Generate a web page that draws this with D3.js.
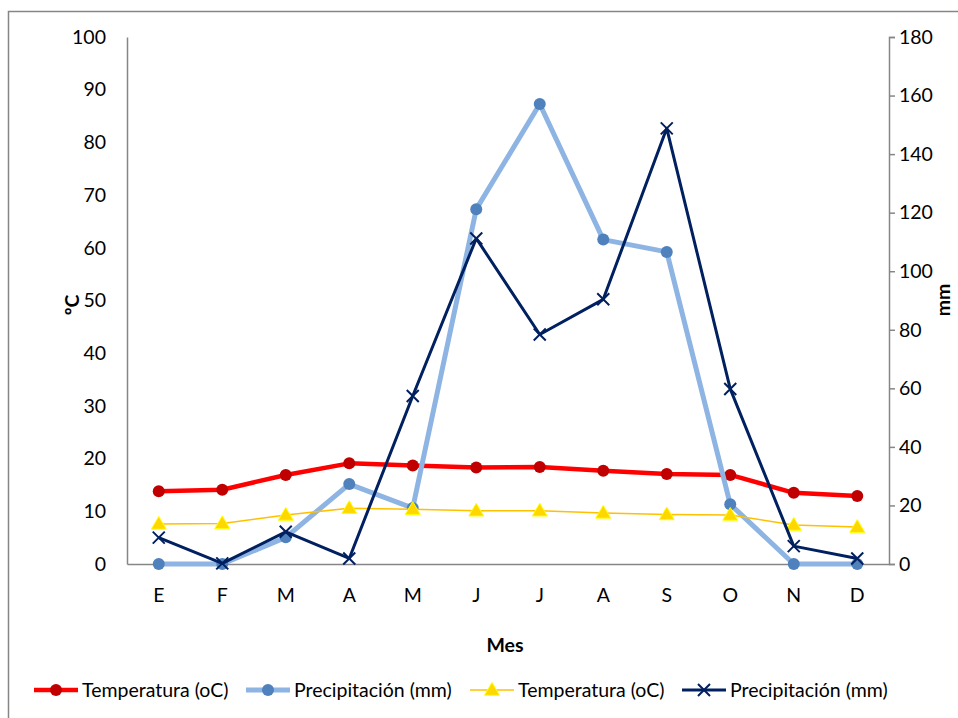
<!DOCTYPE html>
<html><head><meta charset="utf-8">
<script src="https://cdn.jsdelivr.net/npm/d3@7"></script>
<style>body{margin:0;background:#fff}svg{display:block}text{font-family:Lato,"Open Sans",sans-serif;fill:#000}</style>
</head><body>
<svg id="c" width="958" height="718"></svg>
<script>
const months = ["E","F","M","A","M","J","J","A","S","O","N","D"];
const tempRed = [13.8,14.1,16.9,19.1,18.7,18.3,18.4,17.7,17.1,16.9,13.5,12.9];
const precipLight = [0,0,9.1,27.3,19.1,121.2,157.1,110.8,106.6,20.4,0,0];
const tempYellow = [7.6,7.7,9.3,10.6,10.4,10.1,10.1,9.7,9.4,9.3,7.4,7.0];
const precipNavy = [9.0,0.2,11.0,1.9,57.4,111.2,78.4,90.4,148.8,59.8,6.1,1.9];
const leftTicks = [0,10,20,30,40,50,60,70,80,90,100];
const rightTicks = [0,20,40,60,80,100,120,140,160,180];
const legendLabels = ["Temperatura (oC)","Precipitación (mm)","Temperatura (oC)","Precipitación (mm)"];

const FS="19.5px";
const svg = d3.select("#c");
const L=127, R=889, T=37, B=564;
const idx = months.map((m,i)=>i);
const x = d3.scaleBand().domain(idx).range([L,R]);
const cx = i => x(i)+x.bandwidth()/2;
const yL = d3.scaleLinear().domain([0,100]).range([B,T]);
const yR = d3.scaleLinear().domain([0,180]).range([B,T]);
const gray="#868686";

// outer border
svg.append("rect").attr("x",8.5).attr("y",11.5).attr("width",1000).attr("height",1000)
  .attr("fill","none").attr("stroke",gray).attr("stroke-width",1.5);

// left axis
const gl = svg.append("g").attr("transform",`translate(${L},0)`)
  .call(d3.axisLeft(yL).tickValues(leftTicks).tickSize(0).tickPadding(21));
gl.select(".domain").attr("stroke",gray).attr("stroke-width",1.5);
gl.selectAll("text").style("font-size",FS);

// right axis
const gr = svg.append("g").attr("transform",`translate(${R},0)`)
  .call(d3.axisRight(yR).tickValues(rightTicks).tickSize(6).tickSizeOuter(6).tickPadding(4));
gr.select(".domain").attr("stroke",gray).attr("stroke-width",1.5);
gr.selectAll("line").attr("stroke",gray).attr("stroke-width",1.5);
gr.selectAll("text").style("font-size",FS);

// x axis
const gx = svg.append("g").attr("transform",`translate(0,${B})`)
  .call(d3.axisBottom(x).tickFormat(i=>months[i]).tickSize(0).tickPadding(24));
gx.select(".domain").attr("stroke",gray).attr("stroke-width",1.5);
gx.selectAll("text").style("font-size",FS);

// axis titles
svg.append("text").attr("transform","translate(79,305) rotate(-90)").attr("text-anchor","middle")
  .style("font-size",FS).style("font-weight","bold").text("ºC");
svg.append("text").attr("transform","translate(950,300) rotate(-90)").attr("text-anchor","middle")
  .style("font-size",FS).style("font-weight","bold").text("mm");
svg.append("text").attr("x",505).attr("y",652).attr("text-anchor","middle")
  .style("font-size",FS).style("font-weight","bold").text("Mes");

const series = [
  {vals:tempRed, y:yL, color:"#FF0000", w:4.5, marker:"circle", mfill:"#C00000", mr:6},
  {vals:precipLight, y:yR, color:"#8DB4E2", w:5, marker:"circle", mfill:"#4F81BD", mr:6},
  {vals:tempYellow, y:yL, color:"#FFC000", w:1.5, marker:"tri", mfill:"#FFD700", mr:6},
  {vals:precipNavy, y:yR, color:"#002060", w:3, marker:"x", mfill:"#002060", mr:6}
];
const line = (s)=>d3.line().x((d,i)=>cx(i)).y(d=>s.y(d));
function drawMarker(g, s, px, py){
  if(s.marker==="circle"){
    g.append("circle").attr("cx",px).attr("cy",py).attr("r",s.mr).attr("fill",s.mfill);
  } else if(s.marker==="tri"){
    const r=7.5;
    g.append("path").attr("d",`M${px},${py-r}L${px+r},${py+r*0.7}L${px-r},${py+r*0.7}Z`)
      .attr("fill",s.mfill).attr("stroke","#FFFF00").attr("stroke-width",1);
  } else {
    const r=6;
    g.append("path").attr("d",`M${px-r},${py-r}L${px+r},${py+r}M${px-r},${py+r}L${px+r},${py-r}`)
      .attr("stroke",s.mfill).attr("stroke-width",2).attr("fill","none");
  }
}
series.forEach(s=>{
  const g = svg.append("g");
  g.append("path").datum(s.vals).attr("d",line(s)).attr("fill","none")
    .attr("stroke",s.color).attr("stroke-width",s.w).attr("stroke-linejoin","round");
  s.vals.forEach((v,i)=>drawMarker(g,s,cx(i),s.y(v)));
});

// legend
const legX=[34,246,470,682];
series.forEach((s,k)=>{
  const g=svg.append("g");
  const y0=690;
  g.append("line").attr("x1",legX[k]).attr("x2",legX[k]+44).attr("y1",y0).attr("y2",y0)
    .attr("stroke",s.color).attr("stroke-width",s.w);
  drawMarker(g,s,legX[k]+22,y0);
  g.append("text").attr("x",legX[k]+48).attr("y",y0+7).style("font-size",FS).text(legendLabels[k]);
});
</script>
</body></html>
